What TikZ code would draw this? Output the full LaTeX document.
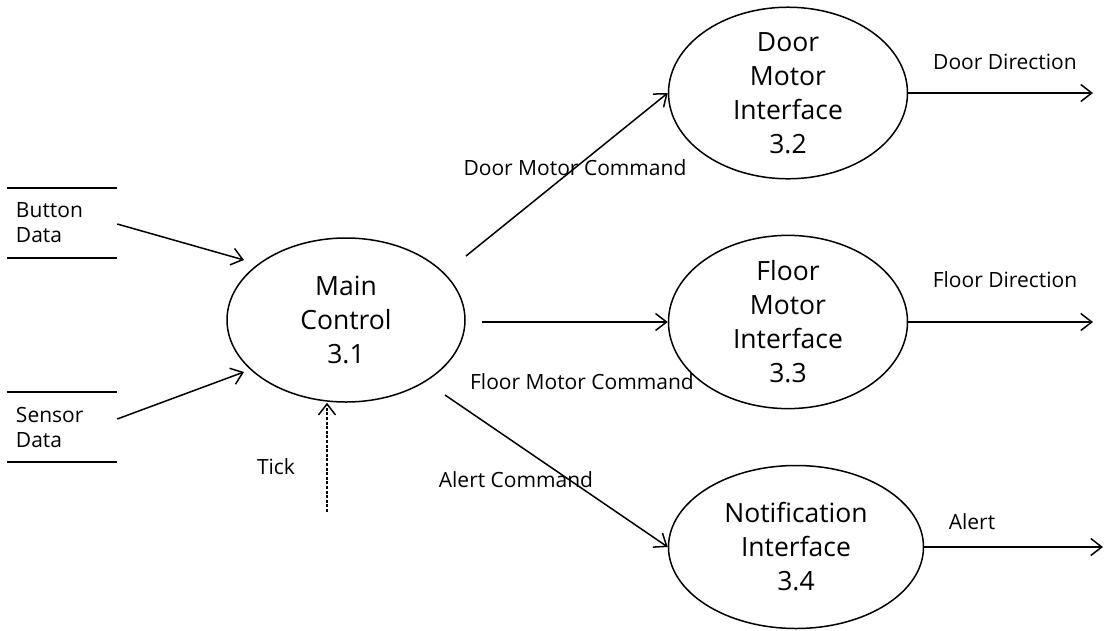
\documentclass[tikz,border=0pt]{standalone}
\usepackage{fontspec}
\setmainfont{Open Sans}
\usetikzlibrary{shapes.geometric,arrows.meta}
\begin{document}
\begin{tikzpicture}[x=1pt,y=-1pt,
  proc/.style={ellipse,draw,line width=1.5pt,inner sep=0pt,align=center,font=\fontsize{26.5}{34}\selectfont},
  flow/.style={line width=1.5pt,-{Straight Barb[length=11pt,width=17pt,line width=1.5pt]}},
  tickflow/.style={flow,dash pattern=on 3pt off 1.6pt},
  lbl/.style={font=\fontsize{21}{26}\selectfont,inner sep=0pt},
  store/.style={text width=92pt,inner xsep=9pt,inner ysep=0pt,minimum height=70pt,align=left,font=\fontsize{21}{25}\selectfont},
  storeline/.style={line width=1.5pt}
]
\useasboundingbox (0,0) rectangle (1104,630);

% processes
\node[proc,minimum width=238pt,minimum height=164pt] (main) at (346,320) {Main\\Control\\3.1};
\node[proc,minimum width=239pt,minimum height=162pt] (door) at (788,93) {Door\\Motor\\Interface\\3.2};
\node[proc,minimum width=239pt,minimum height=164pt] (floor) at (788,322) {Floor\\Motor\\Interface\\3.3};
\node[proc,minimum width=255pt,minimum height=163pt] (notif) at (796,547) {Notification\\Interface\\3.4};

% data stores
\node[store] (bd) at (62,223) {Button\\Data};
\node[store] (sd) at (62,427) {Sensor\\Data};
\draw[storeline] (bd.north west) -- (bd.north east);
\draw[storeline] (bd.south west) -- (bd.south east);
\draw[storeline] (sd.north west) -- (sd.north east);
\draw[storeline] (sd.south west) -- (sd.south east);

% free ends
\coordinate (bdin) at (244,260);
\coordinate (sdin) at (244,372);
\coordinate (tick) at (327,512);
\coordinate (dmout) at (466,256);
\coordinate (fmout) at (482,322);
\coordinate (alout) at (445,395);
\coordinate (ddir) at (1093,93);
\coordinate (fdir) at (1093,322);
\coordinate (alert) at (1103,547);

% flows
\draw[flow] (bd.east |- 0,224) -- (bdin);
\draw[flow] (sd.east |- 0,419) -- (sdin);
\draw[tickflow] (tick) -- (tick |- main.south);
\draw[flow] (dmout) -- (door.west);
\draw[flow] (fmout) -- (floor.west);
\draw[flow] (alout) -- (notif.west);
\draw[flow] (door.east) -- (ddir);
\draw[flow] (floor.east) -- (fdir);
\draw[flow] (notif.east) -- (alert);

% labels
\node[lbl] (ltick) at (276,467) {Tick};
\node[lbl] (ldm) at (575,168) {Door Motor Command};
\node[lbl] (lfm) at (582,382) {Floor Motor Command};
\node[lbl] (lal) at (516,480) {Alert Command};
\node[lbl] (ldd) at (1005,62) {Door Direction};
\node[lbl] (lfd) at (1005,280) {Floor Direction};
\node[lbl] (lalert) at (972,522) {Alert};
\end{tikzpicture}
\end{document}
